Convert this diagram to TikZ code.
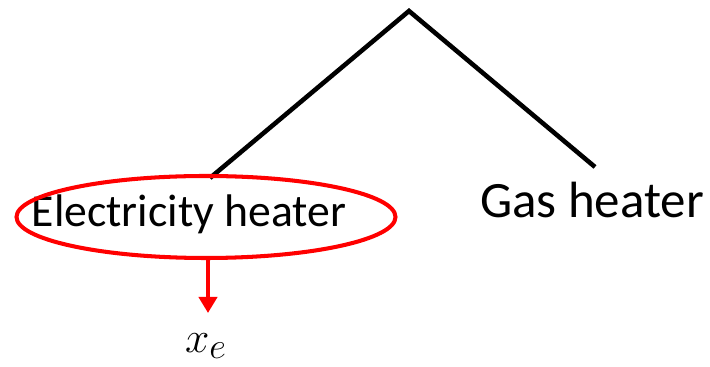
\documentclass[tikz,border=0pt]{standalone}
\usepackage{fontspec}
\setmainfont{Carlito}
\usepackage{xcolor}
\usetikzlibrary{positioning, shapes.geometric, arrows.meta}
\definecolor{ringred}{HTML}{ff0000}

\begin{document}
\begin{tikzpicture}[
 branch/.style={line width=2.6pt, black},
 label/.style={inner sep=0pt, anchor=base, font=\fontsize{26}{31}\selectfont}]
\useasboundingbox (0,0) rectangle (14.2,7.34);
% tree
\coordinate (root) at (8.18,7.12);
\coordinate (elecend) at (4.20,3.78);
\coordinate (gasend) at (11.90,4.00);
\draw[branch] (elecend) -- (root) -- (gasend);

\node[label](elec) at (3.78,2.80){Electricity heater};
\node[label, font=\fontsize{29}{34}\selectfont](gas) at (11.84,2.98){Gas heater};

% selected option
\node[ellipse, draw=ringred, line width=2.3pt, minimum width=7.58cm, minimum height=1.64cm, inner sep=0pt](ring) at (4.12,3.00){};
\node[inner sep=0pt, font=\fontsize{28}{33}\selectfont](xe) at (4.12,0.42){$x_e$};
\coordinate (tip) at (4.16,1.08);
\draw[-{Triangle[length=0.32cm,width=0.36cm]}, line width=2.3pt, ringred] (ring.south -| tip) -- (tip);

\end{tikzpicture}
\end{document}
